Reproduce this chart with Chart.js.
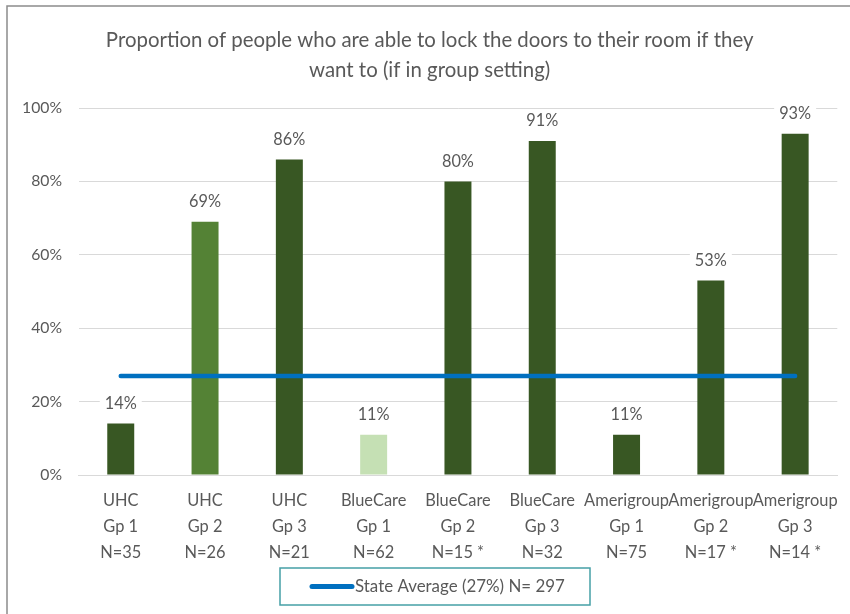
<!DOCTYPE html>
<html>
<head>
<meta charset="utf-8">
<script src="https://cdn.jsdelivr.net/npm/chart.js@4.4.1/dist/chart.umd.min.js"></script>
<style>
  body { margin: 0; background: #fff; }
  canvas { display: block; }
</style>
</head>
<body>
<canvas id="doorChart" width="850" height="614"></canvas>
<script>
// categories (x labels, one line per row)
var categories = [
  ['UHC', 'Gp 1', 'N=35'],
  ['UHC', 'Gp 2', 'N=26'],
  ['UHC', 'Gp 3', 'N=21'],
  ['BlueCare', 'Gp 1', 'N=62'],
  ['BlueCare', 'Gp 2', 'N=15 *'],
  ['BlueCare', 'Gp 3', 'N=32'],
  ['Amerigroup', 'Gp 1', 'N=75'],
  ['Amerigroup', 'Gp 2', 'N=17 *'],
  ['Amerigroup', 'Gp 3', 'N=14 *']
];
var lockPercent = [14, 69, 86, 11, 80, 91, 11, 53, 93];
var stateAverage = [27, 27, 27, 27, 27, 27, 27, 27, 27];
var stateLabel = 'State Average (27%) N= 297';
var chartTitle = ['Proportion of people who are able to lock the doors to their room if they', 'want to (if in group setting)'];

var barColors = ['#385723', '#548235', '#385723', '#C5E0B4', '#385723', '#385723', '#385723', '#385723', '#385723'];
var textColor = '#595959';
var fontFamily = 'Lato, "Open Sans", sans-serif';

// size fonts so the text runs as wide as in the original (it used Calibri)
var measureCtx = document.createElement('canvas').getContext('2d');
function fitSize(text, targetWidth) {
  measureCtx.font = '100px ' + fontFamily;
  return 100 * targetWidth / measureCtx.measureText(text).width;
}
var titleSize = fitSize(chartTitle[0], 648);
var yTickSize = fitSize('100%', 40);
var xTickSize = fitSize('Amerigroup', 85);
var valueSize = fitSize('69%', 32);
var legendSize = fitSize(stateLabel, 210);

// white page + the frame edge of the original chart
var framePlugin = {
  id: 'frame',
  beforeDraw: function (chart) {
    var ctx = chart.ctx;
    ctx.save();
    ctx.fillStyle = '#fff';
    ctx.fillRect(0, 0, chart.width, chart.height);
    ctx.strokeStyle = '#8c8c8c';
    ctx.lineWidth = 1.5;
    ctx.strokeRect(7, 6, chart.width + 20, chart.height + 20);
    ctx.restore();
  }
};

// percent labels above bars, with white backing so the grid breaks
var valueLabels = {
  id: 'valueLabels',
  afterDatasetsDraw: function (chart) {
    var ctx = chart.ctx;
    var meta = chart.getDatasetMeta(1);
    ctx.save();
    ctx.font = valueSize + 'px ' + fontFamily;
    ctx.textAlign = 'center';
    ctx.textBaseline = 'middle';
    meta.data.forEach(function (bar, i) {
      var txt = chart.data.datasets[1].data[i] + '%';
      var w = ctx.measureText(txt).width;
      var y = bar.y - 20;
      ctx.fillStyle = '#fff';
      ctx.fillRect(bar.x - w / 2 - 5, y - 10, w + 10, 20);
      ctx.fillStyle = textColor;
      ctx.fillText(txt, bar.x, y);
    });
    ctx.restore();
  }
};

// boxed legend for the state average line
var boxLegend = {
  id: 'boxLegend',
  afterDraw: function (chart) {
    var ctx = chart.ctx;
    ctx.save();
    ctx.strokeStyle = '#46a0a6';
    ctx.lineWidth = 1.5;
    ctx.strokeRect(280, 568, 310, 37);
    ctx.strokeStyle = chart.data.datasets[0].borderColor;
    ctx.lineWidth = 5;
    ctx.lineCap = 'round';
    ctx.beginPath();
    ctx.moveTo(312, 586.5);
    ctx.lineTo(352, 586.5);
    ctx.stroke();
    ctx.font = legendSize + 'px ' + fontFamily;
    ctx.fillStyle = textColor;
    ctx.textBaseline = 'middle';
    ctx.fillText(chart.data.datasets[0].label, 355, 587);
    ctx.restore();
  }
};

new Chart(document.getElementById('doorChart'), {
  type: 'bar',
  data: {
    labels: categories,
    datasets: [
      {
        type: 'line',
        label: stateLabel,
        data: stateAverage,
        borderColor: '#0070C0',
        borderWidth: 4.5,
        borderCapStyle: 'round',
        pointRadius: 0,
        fill: false,
        order: 0
      },
      {
        label: 'Able to lock door',
        data: lockPercent,
        backgroundColor: barColors,
        barPercentage: 0.32,
        categoryPercentage: 1,
        order: 1
      }
    ]
  },
  options: {
    responsive: false,
    animation: false,
    layout: { padding: { left: 22, right: 12.7, top: 0, bottom: 48 } },
    plugins: {
      legend: { display: false },
      tooltip: { enabled: false },
      title: {
        display: true,
        text: chartTitle,
        color: textColor,
        font: { family: fontFamily, size: titleSize, weight: 'normal', lineHeight: '30px' },
        padding: { top: 25, bottom: 23 }
      }
    },
    scales: {
      x: {
        afterFit: function (scale) {
          scale.height = 91;
          scale.paddingLeft = 0;
          scale.paddingRight = 0;
        },
        grid: { display: false, drawTicks: false },
        border: { display: true, color: '#d9d9d9', width: 1 },
        ticks: {
          color: textColor,
          font: { family: fontFamily, size: xTickSize, lineHeight: '26px' },
          padding: 13,
          autoSkip: false,
          maxRotation: 0
        }
      },
      y: {
        min: 0,
        max: 100,
        afterFit: function (scale) { scale.width = 56.6; },
        grid: { color: '#d9d9d9', drawTicks: false },
        border: { display: false },
        ticks: {
          stepSize: 20,
          color: textColor,
          padding: 16.6,
          font: { family: fontFamily, size: yTickSize },
          callback: function (v) { return v + '%'; }
        }
      }
    }
  },
  plugins: [framePlugin, valueLabels, boxLegend]
});
</script>
</body>
</html>
